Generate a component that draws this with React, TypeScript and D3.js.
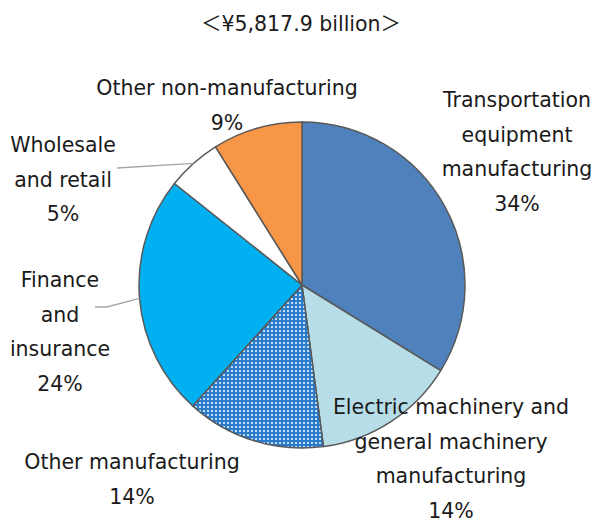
import React from 'react';
import * as d3 from 'd3';

// Breakdown pie, clockwise from 12 o'clock. Shares.
const TITLE = '＜¥5,817.9 billion＞';

const categories = [
  'Transportation equipment manufacturing',
  'Electric machinery and general machinery manufacturing',
  'Other manufacturing',
  'Finance and insurance',
  'Wholesale and retail',
  'Other non-manufacturing',
];

const shares = [33.8, 14.1, 13.8, 24.0, 5.4, 8.9];

const labelLines = [
  ['Transportation', 'equipment', 'manufacturing'],
  ['Electric machinery and', 'general machinery', 'manufacturing'],
  ['Other manufacturing'],
  ['Finance', 'and', 'insurance'],
  ['Wholesale', 'and retail'],
  ['Other non-manufacturing'],
];

const sliceFills = ['#4f81bd', '#b7dee8', 'url(#dots)', '#00b0f0', '#ffffff', '#f79646'];

// label block layout: centre x, first baseline, and an optional leader start
const LABEL_LAYOUT = [
  { x: 517, y: 107 },
  { x: 451, y: 414 },
  { x: 132, y: 469 },
  { x: 60, y: 287, leader: [[95, 307], [107, 307]] },
  { x: 63, y: 152, leader: [[117, 168]] },
  { x: 227, y: 95 },
];

const W = 595;
const H = 521;
const CX = 302;
const CY = 285;
const R = 163;
const LINE_H = 34.5;
const FS = 20.5;
const FONT = '"DejaVu Sans", "Noto Sans CJK JP", sans-serif';

export default function App() {
  const pie = d3
    .pie<number>()
    .sort(null)
    .value((d) => d);
  const arcs = pie(shares);
  const arc = d3.arc<d3.PieArcDatum<number>>().innerRadius(0).outerRadius(R);
  const edge = d3.arc<d3.PieArcDatum<number>>().innerRadius(R).outerRadius(R);

  return (
    <svg
      width={W}
      height={H}
      viewBox={`0 0 ${W} ${H}`}
      style={{ position: 'absolute', left: 0, top: 0, background: '#fff' }}
      fontFamily={FONT}
    >
      <defs>
        <pattern id="dots" width={4} height={4} patternUnits="userSpaceOnUse">
          <rect width={4} height={4} fill="#2b7bcb" />
          <rect x={1} y={1} width={2} height={2} fill="#c4e0f8" />
        </pattern>
      </defs>

      <text x={301} y={31} textAnchor="middle" fontSize={FS} fill="#1a1a1a">
        {TITLE}
      </text>

      <g transform={`translate(${CX},${CY})`}>
        {arcs.map((a, i) => (
          <path
            key={categories[i]}
            d={arc(a) ?? ''}
            fill={sliceFills[i]}
            stroke="#595959"
            strokeWidth={1.5}
            strokeLinejoin="round"
          />
        ))}
      </g>

      {/* leader lines to the mid-angle of the slice edge */}
      {arcs.map((a, i) => {
        const lay = LABEL_LAYOUT[i];
        if (!lay.leader) return null;
        const [ex, ey] = edge.centroid(a);
        const pts = [...lay.leader, [CX + ex, CY + ey]];
        return (
          <path
            key={`lead-${i}`}
            d={d3.line()(pts as [number, number][]) ?? ''}
            fill="none"
            stroke="#a6a6a6"
            strokeWidth={1.3}
          />
        );
      })}

      {labelLines.map((lines, i) => {
        const lay = LABEL_LAYOUT[i];
        const all = [...lines, `${Math.round(shares[i])}%`];
        return (
          <text
            key={`lab-${i}`}
            x={lay.x}
            y={lay.y}
            textAnchor="middle"
            fontSize={FS}
            fill="#1a1a1a"
          >
            {all.map((t, k) => (
              <tspan key={k} x={lay.x} y={lay.y + k * LINE_H}>
                {t}
              </tspan>
            ))}
          </text>
        );
      })}
    </svg>
  );
}
